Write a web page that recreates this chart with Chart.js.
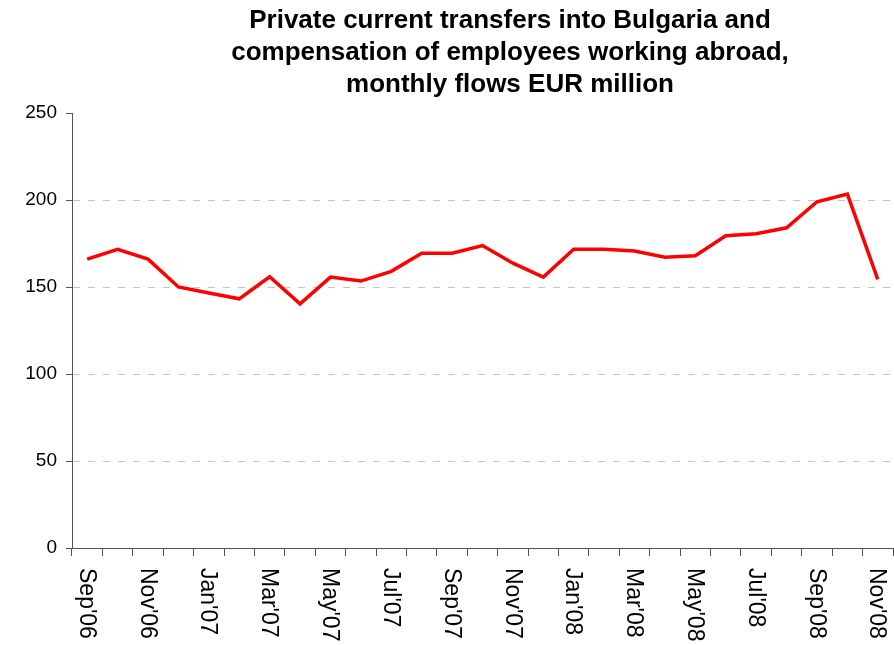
<!DOCTYPE html>
<html lang="en">
<head>
  <meta charset="utf-8">
  <title>Private current transfers into Bulgaria</title>
  <script src="https://cdn.jsdelivr.net/npm/chart.js@4.4.0/dist/chart.umd.min.js"></script>
  <style>
    * { box-sizing: border-box; }
    body { margin: 0; background: #fff; }
    #wrap { width: 894px; height: 645px; }
  </style>
</head>
<body>
  <div id="wrap"><canvas id="chart" width="894" height="645"></canvas></div>
  <script>
    const titleLines = [
      'Private current transfers into Bulgaria and',
      'compensation of employees working abroad,',
      'monthly flows EUR million'
    ];

    const months = [
      "Sep'06", "Oct'06", "Nov'06", "Dec'06", "Jan'07", "Feb'07", "Mar'07", "Apr'07", "May'07",
      "Jun'07", "Jul'07", "Aug'07", "Sep'07", "Oct'07", "Nov'07", "Dec'07", "Jan'08", "Feb'08",
      "Mar'08", "Apr'08", "May'08", "Jun'08", "Jul'08", "Aug'08", "Sep'08", "Oct'08", "Nov'08"
    ];

    // EUR million
    const transfers = [
      166, 171.7, 166, 150, 146.6, 143.2, 155.9, 140.3, 155.7,
      153.4, 159, 169.4, 169.4, 173.8, 163.7, 155.7, 171.7, 171.7,
      170.7, 167.1, 168, 179.5, 180.6, 184, 199, 203.4, 154.4
    ];

    // only every second month is labelled on the axis
    const shownLabels = months.filter((_, i) => i % 2 === 0);

    const fontFamily = "'Liberation Sans', Arial, sans-serif";
    const axisGrey = '#555555';

    // title is centered a bit right of the plot, draw it by hand
    const titlePlugin = {
      id: 'titleLines',
      afterDraw(chart) {
        const ctx = chart.ctx;
        ctx.save();
        ctx.fillStyle = '#000';
        ctx.font = 'bold 26px ' + fontFamily;
        ctx.textAlign = 'center';
        ctx.textBaseline = 'alphabetic';
        titleLines.forEach((line, i) => ctx.fillText(line, 510, 28 + i * 32));
        ctx.restore();
      }
    };

    // x labels read top to bottom (rotated +90deg), Chart.js only rotates the other way
    const xLabelPlugin = {
      id: 'xLabels',
      afterDraw(chart) {
        const ctx = chart.ctx;
        const xs = chart.scales.x;
        ctx.save();
        ctx.fillStyle = '#000';
        ctx.font = '23px ' + fontFamily;
        ctx.textAlign = 'left';
        ctx.textBaseline = 'middle';
        months.forEach((m, i) => {
          if (!shownLabels.includes(m)) return;
          ctx.save();
          ctx.translate(xs.getPixelForValue(i), xs.top + 20);
          ctx.rotate(Math.PI / 2);
          ctx.fillText(m, 0, 1);
          ctx.restore();
        });
        ctx.restore();
      }
    };

    new Chart(document.getElementById('chart'), {
      type: 'line',
      data: {
        labels: months,
        datasets: [{
          label: 'Transfers',
          data: transfers,
          borderColor: '#ff0000',
          borderWidth: 3.5,
          pointRadius: 0,
          tension: 0,
          fill: false
        }]
      },
      options: {
        responsive: false,
        animation: false,
        layout: { padding: { top: 113, right: 1, left: 0, bottom: 0 } },
        plugins: { legend: { display: false }, title: { display: false }, tooltip: { enabled: false } },
        scales: {
          x: {
            type: 'category',
            offset: true,
            afterFit: (s) => { s.height = 97; },
            ticks: { display: false },
            grid: { offset: true, drawOnChartArea: false, drawTicks: true, tickLength: 8, tickColor: axisGrey, color: axisGrey },
            border: { color: axisGrey, width: 1 }
          },
          y: {
            min: 0,
            max: 250,
            afterFit: (s) => { s.width = 72; },
            ticks: { stepSize: 50, padding: 9, color: '#000', font: { family: fontFamily, size: 19 } },
            grid: {
              color: (c) => (c.tick && (c.tick.value === 0 || c.tick.value === 250)) ? 'rgba(0,0,0,0)' : '#c4c4c4',
              tickColor: axisGrey,
              tickLength: 6,
              lineWidth: 1
            },
            border: { color: axisGrey, width: 1, dash: [7, 8] }
          }
        }
      },
      plugins: [titlePlugin, xLabelPlugin]
    });
  </script>
</body>
</html>
